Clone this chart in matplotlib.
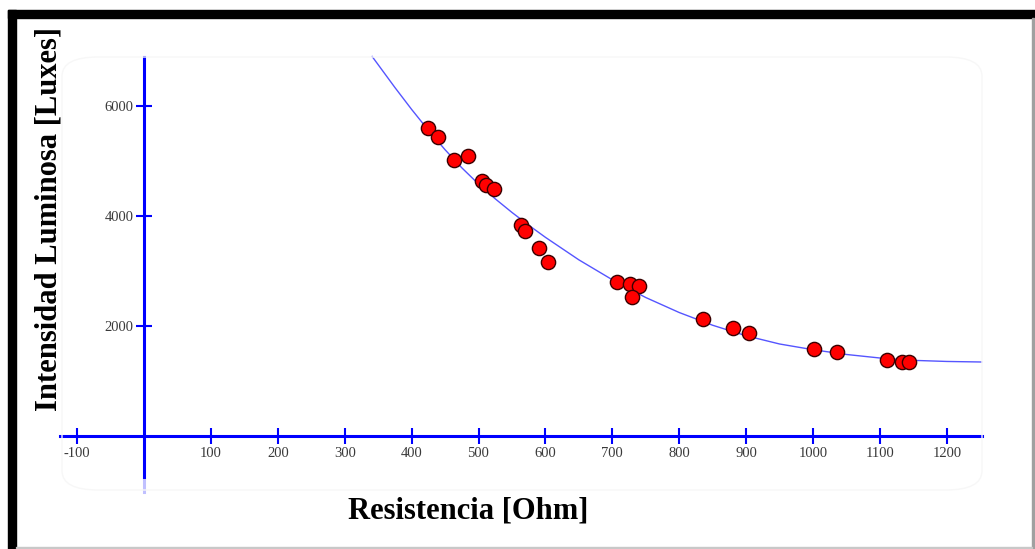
import matplotlib.pyplot as plt
from matplotlib.patches import Rectangle, FancyBboxPatch

plt.rcParams['axes.unicode_minus'] = False

# datos medidos: resistencia [Ohm] vs intensidad luminosa [Luxes]
resistencia = [425, 439, 463, 485, 505, 511, 523, 563, 570, 590, 604,
               707, 726, 740, 729, 835, 881, 905, 1001, 1036, 1110, 1133, 1144]
intensidad = [5593, 5440, 5015, 5094, 4639, 4560, 4482, 3841, 3732, 3413, 3164,
              2800, 2758, 2727, 2516, 2115, 1952, 1871, 1575, 1526, 1374, 1344, 1344]

# curva de ajuste
curva_x = [341, 350, 375, 400, 425, 450, 475, 500, 525, 550, 575, 600, 650,
           707, 750, 800, 850, 900, 950, 1001, 1050, 1110, 1150, 1200, 1252]
curva_y = [6900, 6751, 6336, 5937, 5558, 5203, 4874, 4578, 4309, 4061, 3829, 3608, 3198,
           2785, 2512, 2239, 2007, 1816, 1666, 1560, 1475, 1398, 1368, 1348, 1338]

xticks = [-100, 100, 200, 300, 400, 500, 600, 700, 800, 900, 1000, 1100, 1200]
yticks = [2000, 4000, 6000]

W, H = 1035, 549
fig = plt.figure(figsize=(W / 100, H / 100), dpi=100)
fig.patch.set_facecolor('white')

# pixel -> dato: x = (px-144)/0.669 ; y = (435.5-py)/0.05493
sx, x0 = 0.669, 144
sy, y0 = 0.05493, 435.5
ax = fig.add_axes([0, 0, 1, 1])
ax.set_xlim((0 - x0) / sx, (W - x0) / sx)
ax.set_ylim((y0 - H) / sy, y0 / sy)
ax.patch.set_alpha(0)

azul = '#0000ff'
ax.spines['top'].set_visible(False)
ax.spines['right'].set_visible(False)
ax.spines['left'].set_position(('data', 0))
ax.spines['bottom'].set_position(('data', 0))
ax.spines['left'].set_bounds((y0 - 477) / sy, (y0 - 57) / sy)
ax.spines['bottom'].set_bounds((60 - x0) / sx, (982 - x0) / sx)
for s in ('left', 'bottom'):
    ax.spines[s].set_color(azul)
    ax.spines[s].set_linewidth(2.2)
    ax.spines[s].set_zorder(1)

# tramo tenue al final del eje vertical
ax.axvline(0, ymin=(H - 492) / H, ymax=(H - 480) / H, color='#c0c0ff', lw=2.2)

ax.set_xticks(xticks)
ax.set_yticks(yticks)
ax.tick_params(axis='both', direction='inout', length=11, width=1.5, color=azul,
               labelcolor='#3a3a3a', labelsize=10.5)
ax.tick_params(axis='x', pad=3)
ax.tick_params(axis='y', pad=2)
for lab in ax.get_xticklabels() + ax.get_yticklabels():
    lab.set_fontfamily('Liberation Serif')

ax.plot(curva_x, curva_y, color='#5555ff', lw=1.0, zorder=2)
ax.scatter(resistencia, intensidad, s=105, color='#ff0000', edgecolor='#3a0000',
           linewidth=1.0, zorder=3)

fig.text(468 / W, 1 - 511 / H, 'Resistencia [Ohm]', family='Liberation Serif',
         weight='bold', fontsize=22, ha='center', va='center')
fig.text(49 / W, 1 - 219 / H, 'Intensidad Luminosa [Luxes]', family='Liberation Serif',
         weight='bold', fontsize=22, ha='center', va='center', rotation=90)

# marco
fig.patches.append(FancyBboxPatch((62 / W, 1 - 490 / H), 920 / W, 433 / H,
                                  boxstyle='round,pad=0,rounding_size=0.035',
                                  transform=fig.transFigure, fill=False,
                                  edgecolor='#f7f7f7', lw=1, zorder=0))
fig.patches.append(Rectangle((8 / W, 1 - 18 / H), (W - 8) / W, 8 / H,
                             transform=fig.transFigure, color='black', zorder=5))
fig.patches.append(Rectangle((8 / W, 0), 8 / W, 1 - 10 / H,
                             transform=fig.transFigure, color='black', zorder=5))
fig.patches.append(Rectangle((1032 / W, 0), 1.5 / W, 1 - 18 / H,
                             transform=fig.transFigure, color='#a0a0a0', zorder=5))
fig.patches.append(Rectangle((16 / W, 1 / H), 1016 / W, 1.5 / H,
                             transform=fig.transFigure, color='#c8c8c8', zorder=5))

fig.savefig('out.png', dpi=100)
